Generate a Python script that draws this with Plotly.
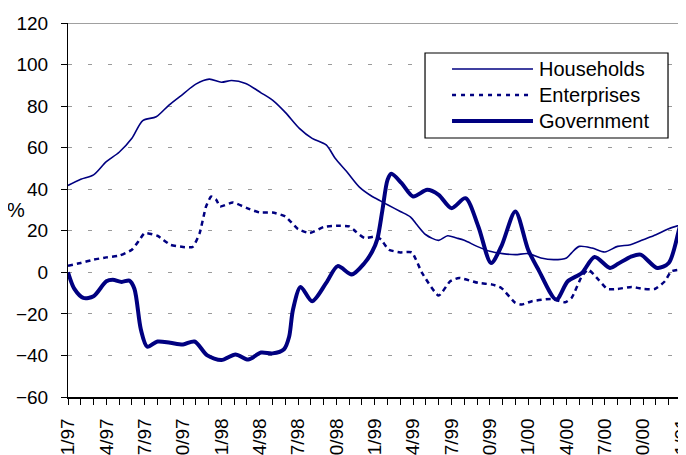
import plotly.graph_objects as go

# ---- data (x = months since Jan 1997) ----
hh_months = [0, 1, 2, 3, 4, 5, 5.85, 6.9, 7.9, 9, 10, 11.05, 12, 12.8, 13.9, 15.1, 16, 17, 18.1,
             19.1, 20.2, 20.9, 21.8, 22.8, 23.8, 24.2, 25, 26, 26.8, 27.3, 28, 29, 29.7, 30.4, 31,
             32, 33, 34, 35, 36, 37, 38, 39, 39.4, 40, 41, 42, 43, 44, 45, 46, 47, 48.35]
hh_values = [41.8, 44.8, 46.9, 53.3, 57.8, 64.5, 73.0, 74.9, 80.5, 85.8, 90.6, 93.0, 91.5, 92.3, 90.9,
             86.4, 82.9, 77.0, 69.3, 64.5, 61.3, 54.9, 48.5, 41.0, 36.5, 35.2, 32.5, 29.3, 26.6, 22.9,
             18.1, 15.4, 17.6, 16.5, 15.4, 12.5, 10.1, 9.0, 8.5, 9.0, 6.9, 6.1, 6.9, 9.4, 12.5,
             11.7, 9.8, 12.5, 13.3, 15.7, 18.1, 21.0, 23.6]

ent_months = [0, 1, 2, 3, 4, 5, 5.6, 6, 7, 8, 9, 9.75, 10.3, 10.8, 11.2, 11.6, 11.9, 12.9, 14, 15,
              16, 17, 18, 18.9, 20, 21, 22, 22.5, 23.2, 24.1, 24.5, 25.1, 26, 26.9, 27.7, 29,
              29.9, 30.6, 32.1, 33.2, 33.9, 35, 35.5, 36.3, 37.8, 38.9, 39.4, 40.2, 40.7, 41.5,
              42.2, 43, 44.1, 45, 45.9, 46.7, 47.2, 48.35]
ent_values = [3.2, 4.5, 6.1, 7.2, 8.0, 10.9, 15.7, 18.9, 17.6, 13.3, 12.2, 12.2, 18.9, 31.7, 36.5,
              34.9, 31.7, 33.6, 30.9, 28.8, 28.8, 26.9, 20.8, 18.9, 21.8, 22.4, 22.1, 19.7, 16.5,
              17.3, 15.7, 10.9, 9.6, 9.6, -0.3, -11.2, -4.3, -2.7, -5.1, -5.9, -7.5, -14.7, -15.5,
              -13.9, -12.8, -14.4, -12.3, -1.9, 1.3, -3.5, -8.0, -8.0, -7.0, -8.0, -8.0, -4.3, 0.5, 1.6]

gov_months = [0, 0.5, 1.2, 2.0, 3.0, 3.5, 4.2, 4.8, 5.2, 5.7, 6.2, 7.0, 8.0, 9.0, 9.9, 10.9, 12.0,
              13.1, 14.1, 15.1, 16.0, 16.9, 17.3, 17.6, 18.2, 19.1, 20.2, 21.1, 22.2, 23.2, 23.8,
              24.2, 24.6, 25.0, 25.3, 26.1, 27.0, 28.1, 29.0, 30.0, 31.1, 32.1, 33.1, 33.9, 35.0,
              36.0, 36.8, 38.2, 39.1, 40.2, 41.2, 42.4, 43.0, 44.1, 44.8, 46.1, 47.0, 47.8, 48.35]
gov_values = [0, -8, -12.3, -11.5, -4.3, -3.6, -4.6, -4.0, -8, -27.5, -35.8, -33.3, -33.9, -34.7,
              -33.3, -40, -42.2, -39.5, -42, -38.6, -39, -37, -31, -18, -7, -13.9, -5.1, 3.0, -1.0,
              4.5, 10, 16, 30, 44.5, 47.4, 42.9, 36.5, 39.7, 37.3, 30.9, 35.7, 22.1, 4.5, 12.5, 29.3,
              10.9, 1.3, -13.1, -4.3, -0.3, 7.4, 2.1, 4.0, 7.7, 8.5, 2.1, 4.5, 20.5, 35.7]

tick_months = list(range(0, 49, 3))
tick_labels = ["1/97", "4/97", "7/97", "10/97", "1/98", "4/98", "7/98", "10/98", "1/99",
               "4/99", "7/99", "10/99", "1/00", "4/00", "7/00", "10/00", "1/01"]
series_names = ["Households", "Enterprises", "Government"]

NAVY = "#000080"
FONT = "Arial, Liberation Sans, sans-serif"
X_RANGE = [0, 48.35]

fig = go.Figure()
fig.add_trace(go.Scatter(x=hh_months, y=hh_values, mode="lines", name=series_names[0],
                         line=dict(color=NAVY, width=1.6, shape="spline", smoothing=0.8)))
fig.add_trace(go.Scatter(x=ent_months, y=ent_values, mode="lines", name=series_names[1],
                         line=dict(color=NAVY, width=2.5, dash="5px,4px", shape="spline", smoothing=0.5)))
fig.add_trace(go.Scatter(x=gov_months, y=gov_values, mode="lines", name=series_names[2],
                         line=dict(color=NAVY, width=4, shape="spline", smoothing=0.8)))

# page has an 8px body margin: the figure is sized/offset so the plot sits where the reference's does
fig.update_layout(
    width=678, height=447,
    margin=dict(l=60, r=0, t=15, b=58, autoexpand=False),
    paper_bgcolor="white", plot_bgcolor="white",
    showlegend=False,
    font=dict(family=FONT, size=19, color="black"),
    xaxis=dict(range=X_RANGE, tickmode="array", tickvals=tick_months, ticktext=tick_labels,
               tickangle=-90, ticks="outside", ticklen=6, tickcolor="black", tickwidth=1,
               minor=dict(dtick=1, tick0=0, ticks="outside", ticklen=6, tickcolor="black", showgrid=False),
               showline=True, linecolor="black", linewidth=1.5, showgrid=False, zeroline=False,
               ticklabelstandoff=6, automargin=False, ticklabeloverflow="allow"),
    xaxis2=dict(range=X_RANGE, overlaying="x", anchor="y", side="bottom", ticks="inside",
                ticklen=5, tickcolor="black", dtick=1, tick0=0, showticklabels=False,
                showgrid=False, showline=False, zeroline=False, automargin=False),
    yaxis=dict(range=[-60, 120], dtick=20, ticks="outside", ticklen=6, tickcolor="black",
               showline=True, linecolor="black", linewidth=1, showgrid=True,
               gridcolor="#9a9a9a", griddash="4px,16px", gridwidth=1, zeroline=False,
               ticklabelstandoff=9, automargin=False),
)

# top border of plot area
fig.add_shape(type="line", xref="paper", yref="y", x0=0, x1=1, y0=120, y1=120,
              line=dict(color="#808080", width=1.5))

# legend box drawn manually
fig.add_shape(type="rect", xref="paper", yref="paper", x0=0.5777, x1=0.9709, y0=0.6925, y1=0.9198,
              line=dict(color="black", width=1.2), fillcolor="white", layer="above")
leg_y = [0.877, 0.8075, 0.738]
leg_styles = [dict(width=1.6), dict(width=2.5, dash="4px,5px"), dict(width=4)]
for name, yy, st in zip(series_names, leg_y, leg_styles):
    fig.add_shape(type="line", xref="paper", yref="paper", x0=0.6214, x1=0.7524, y0=yy, y1=yy,
                  line=dict(color=NAVY, **st), layer="above")
    fig.add_annotation(xref="paper", yref="paper", x=0.7589, y=yy, text=name, showarrow=False,
                       xanchor="left", yanchor="middle", font=dict(size=20, family=FONT, color="black"))

fig.add_annotation(xref="paper", yref="paper", x=-0.084, y=0.5, text="%", showarrow=False,
                   xanchor="center", yanchor="middle", font=dict(size=20, family=FONT, color="black"))

fig.write_html("out.html")
